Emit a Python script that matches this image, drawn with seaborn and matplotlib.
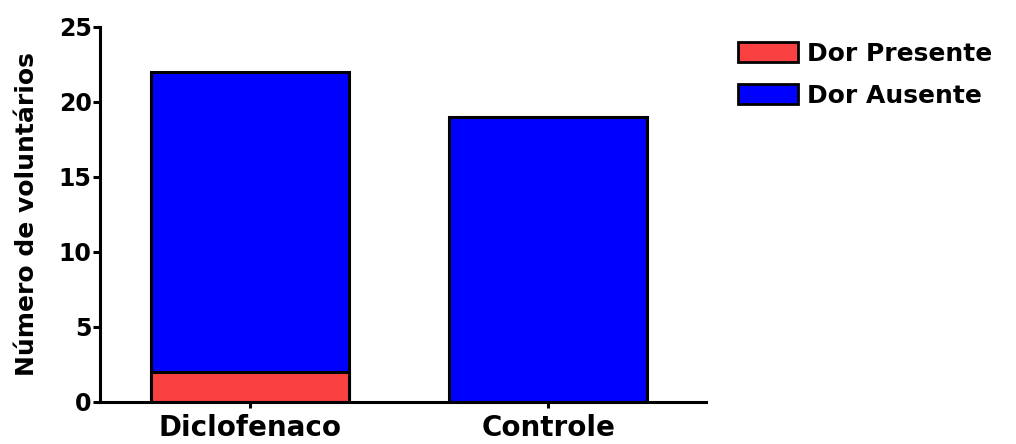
import matplotlib
matplotlib.use('Agg')
import matplotlib.pyplot as plt
from matplotlib.patches import Patch
import seaborn as sns
import pandas as pd

grupos = ['Diclofenaco', 'Controle']
dor_presente = [2, 0]
dor_ausente = [20, 19]
series = ['Dor Presente', 'Dor Ausente']
cores = ['#F94141', '#0000FF']

df = pd.DataFrame({'grupo': grupos, 'presente': dor_presente, 'ausente': dor_ausente})
df['total'] = df['presente'] + df['ausente']

sns.set_style('ticks')
plt.rcParams['font.family'] = ['DejaVu Sans']
plt.rcParams['font.weight'] = 'bold'
plt.rcParams['text.color'] = 'black'
plt.rcParams['axes.labelcolor'] = 'black'
plt.rcParams['xtick.color'] = 'black'
plt.rcParams['ytick.color'] = 'black'
plt.rcParams['axes.edgecolor'] = 'black'

fig = plt.figure(figsize=(10.16, 4.44), dpi=100)
ax = fig.add_axes([0.0984, 0.0946, 0.596, 0.845])

# stacked: total in blue, red part over it from zero
sns.barplot(data=df, x='grupo', y='total', color=cores[1], width=0.665,
            edgecolor='black', linewidth=2.2, saturation=1, ax=ax)
sns.barplot(data=df[df['presente'] > 0], x='grupo', y='presente', order=grupos,
            color=cores[0], width=0.665, edgecolor='black', linewidth=2.2,
            saturation=1, ax=ax)

ax.set_xlim(-0.503, 1.527)
ax.set_ylim(0, 25)
ax.set_yticks([0, 5, 10, 15, 20, 25])
ax.set_xlabel('')
ax.set_ylabel('Número de voluntários', fontsize=18, fontweight='bold', labelpad=14)
ax.tick_params(axis='y', labelsize=17, width=2.2, length=5, pad=1)
ax.tick_params(axis='x', labelsize=20, width=2.2, length=4, pad=5)
for lab in ax.get_xticklabels() + ax.get_yticklabels():
    lab.set_fontweight('bold')
sns.despine(ax=ax)
for s in ['left', 'bottom']:
    ax.spines[s].set_linewidth(2.2)

handles = [Patch(facecolor=c, edgecolor='black', linewidth=2, label=l)
           for c, l in zip(cores, series)]
fig.legend(handles=handles, loc='upper left', bbox_to_anchor=(0.704, 0.957),
           frameon=False, prop={'size': 18, 'weight': 'bold'},
           handlelength=2.4, handleheight=0.85, handletextpad=0.35, labelspacing=0.72)

fig.savefig('out.png', dpi=100)
